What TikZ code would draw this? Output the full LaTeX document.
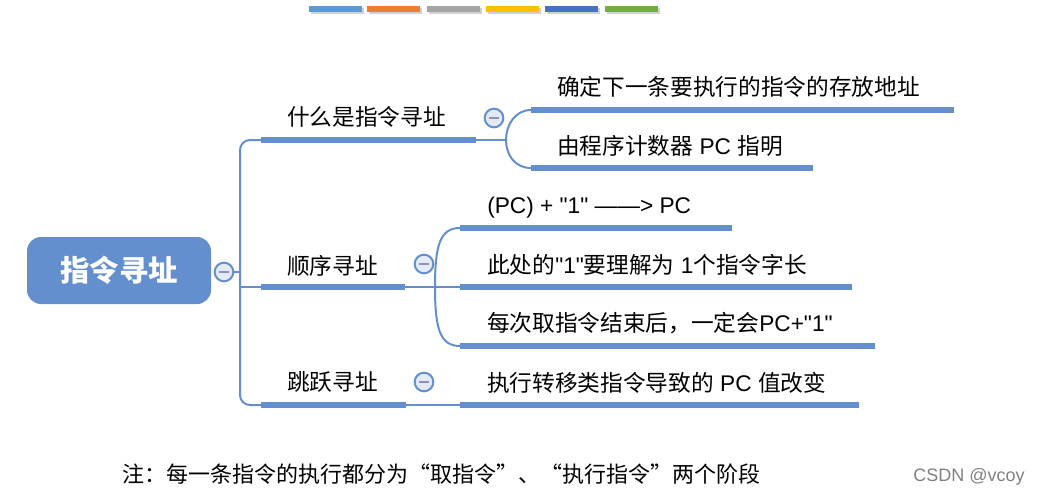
\documentclass[tikz,border=0pt]{standalone}
\usepackage{fontspec}
\setmainfont{Noto Sans CJK SC}
\newfontfamily\cjk{Noto Sans CJK SC}
\newfontfamily\latsans{Liberation Sans}
\newcommand\lt[1]{{\latsans #1}}
\usetikzlibrary{calc}
\definecolor{mblue}{RGB}{99,143,207}
\definecolor{cfill}{RGB}{228,234,245}
\definecolor{cminus}{RGB}{140,146,184}
\definecolor{barA}{RGB}{91,155,213}
\definecolor{barB}{RGB}{237,125,49}
\definecolor{barC}{RGB}{165,165,165}
\definecolor{barD}{RGB}{255,192,0}
\definecolor{barE}{RGB}{68,114,196}
\definecolor{barF}{RGB}{112,173,71}
\tikzset{
  thinline/.style={draw=mblue,line width=1.5pt},
  barline/.style={draw=mblue,line width=4.5pt,line cap=butt},
  rootbox/.style={fill=mblue,rounded corners=10.5pt,minimum width=138pt,minimum height=50.25pt,inner sep=0pt,text=white,font=\cjk\fontsize{22pt}{26pt}\selectfont\bfseries},
  collapse/.style={circle,draw=mblue,fill=cfill,line width=1.5pt,minimum size=14pt,inner sep=0pt},
  minusline/.style={draw=cminus,line width=1.4pt},
  label/.style={anchor=west,inner sep=0pt,text height=0.88em,text depth=0.12em,yshift=-2.25pt,font=\cjk\fontsize{17pt}{20pt}\selectfont},
}
\begin{document}
\begin{tikzpicture}[x=0.75pt,y=-0.75pt]
\useasboundingbox (0,0) rectangle (1041,496);
% top colour bars
\foreach \c/\x in {barA/309,barB/367,barC/427,barD/486,barE/545,barF/605}{
  \fill[black!18] (\x+1.5,7.5) rectangle (\x+54.5,13.5);
  \fill[\c] (\x,6) rectangle (\x+53,12);
}
% root
\node[rootbox] (root) at (119,270.5) {\raisebox{-2.5pt}{指令寻址}};
\node[collapse] (c0) at (224,272) {};
\draw[minusline] ($(c0)-(5,0)$) -- ($(c0)+(5,0)$);
% trunk coordinates
\coordinate (trunk) at (240,272);
\coordinate (b1s) at (261,140);
\coordinate (b1e) at (476,140);
\coordinate (b2s) at (261,287);
\coordinate (b2e) at (405,287);
\coordinate (b3s) at (261,405);
\coordinate (b3e) at (406,405);
\draw[thinline] (c0.east) -- (trunk);
\draw[thinline,rounded corners=7.5pt] (b1s) -| (trunk) |- (b3s);
\draw[thinline] (trunk |- b2s) -- (b2s);
\draw[barline] (b1s) -- (b1e);
\draw[barline] (b2s) -- (b2e);
\draw[barline] (b3s) -- (b3e);
% branch labels
\node[label] (t1) at (287,117) {什么是指令寻址};
\node[label] (t2) at (287,266) {顺序寻址};
\node[label] (t3) at (287,382) {跳跃寻址};
\node[collapse] (c1) at (494,118) {};
\draw[minusline] ($(c1)-(5,0)$) -- ($(c1)+(5,0)$);
\node[collapse] (c2) at (424,264) {};
\draw[minusline] ($(c2)-(5,0)$) -- ($(c2)+(5,0)$);
\node[collapse] (c3) at (424,382) {};
\draw[minusline] ($(c3)-(5,0)$) -- ($(c3)+(5,0)$);
% branch 1 children
\coordinate (f1) at (506,140);
\coordinate (s11s) at (531,110);
\coordinate (s11e) at (954,110);
\coordinate (s12s) at (531,168);
\coordinate (s12e) at (813,168);
\draw[thinline] (b1e) -- (f1);
\draw[thinline] (f1) .. controls (506,125) and (515,110) .. (s11s);
\draw[thinline] (f1) .. controls (506,155) and (515,168) .. (s12s);
\draw[barline] (s11s) -- (s11e);
\draw[barline] (s12s) -- (s12e);
\node[label] (l11) at (557,87) {确定下一条要执行的指令的存放地址};
\node[label] (l12) at (557,146) {由程序计数器\lt{ PC }指明};
% branch 2 children
\coordinate (f2) at (435,287);
\coordinate (s21s) at (460,228);
\coordinate (s21e) at (732,228);
\coordinate (s22s) at (460,287);
\coordinate (s22e) at (852,287);
\coordinate (s23s) at (460,346);
\coordinate (s23e) at (875,346);
\draw[thinline] (b2e) -- (f2);
\draw[thinline] (f2) .. controls (435,245) and (440,228) .. (s21s);
\draw[thinline] (f2) -- (s22s);
\draw[thinline] (f2) .. controls (435,329) and (440,346) .. (s23s);
\draw[barline] (s21s) -- (s21e);
\draw[barline] (s22s) -- (s22e);
\draw[barline] (s23s) -- (s23e);
\node[label] (l21) at (487,205) {\lt{(PC) + "1" ——> PC}};
\node[label] (l22) at (487,265) {此处的\lt{"1"}要理解为\lt{ 1}个指令字长};
\node[label] (l23) at (487,323) {每次取指令结束后，一定会\lt{PC+"1"}};
% branch 3 child
\coordinate (s31s) at (460,405);
\coordinate (s31e) at (859,405);
\draw[thinline] (b3e) -- (s31s);
\draw[barline] (s31s) -- (s31e);
\node[label] (l31) at (487,383) {执行转移类指令导致的\lt{ PC }值改变};
% note and watermark
\node[anchor=west,inner sep=0pt,font=\cjk\fontsize{16.5pt}{20pt}\selectfont] (note) at (122,474) {注：每一条指令的执行都分为“取指令”、“执行指令”两个阶段};
\node[anchor=east,inner sep=0pt,text=black!50,font=\latsans\fontsize{13.5pt}{16pt}\selectfont] (mark) at (1025,477) {CSDN @vcoy};
\end{tikzpicture}
\end{document}
